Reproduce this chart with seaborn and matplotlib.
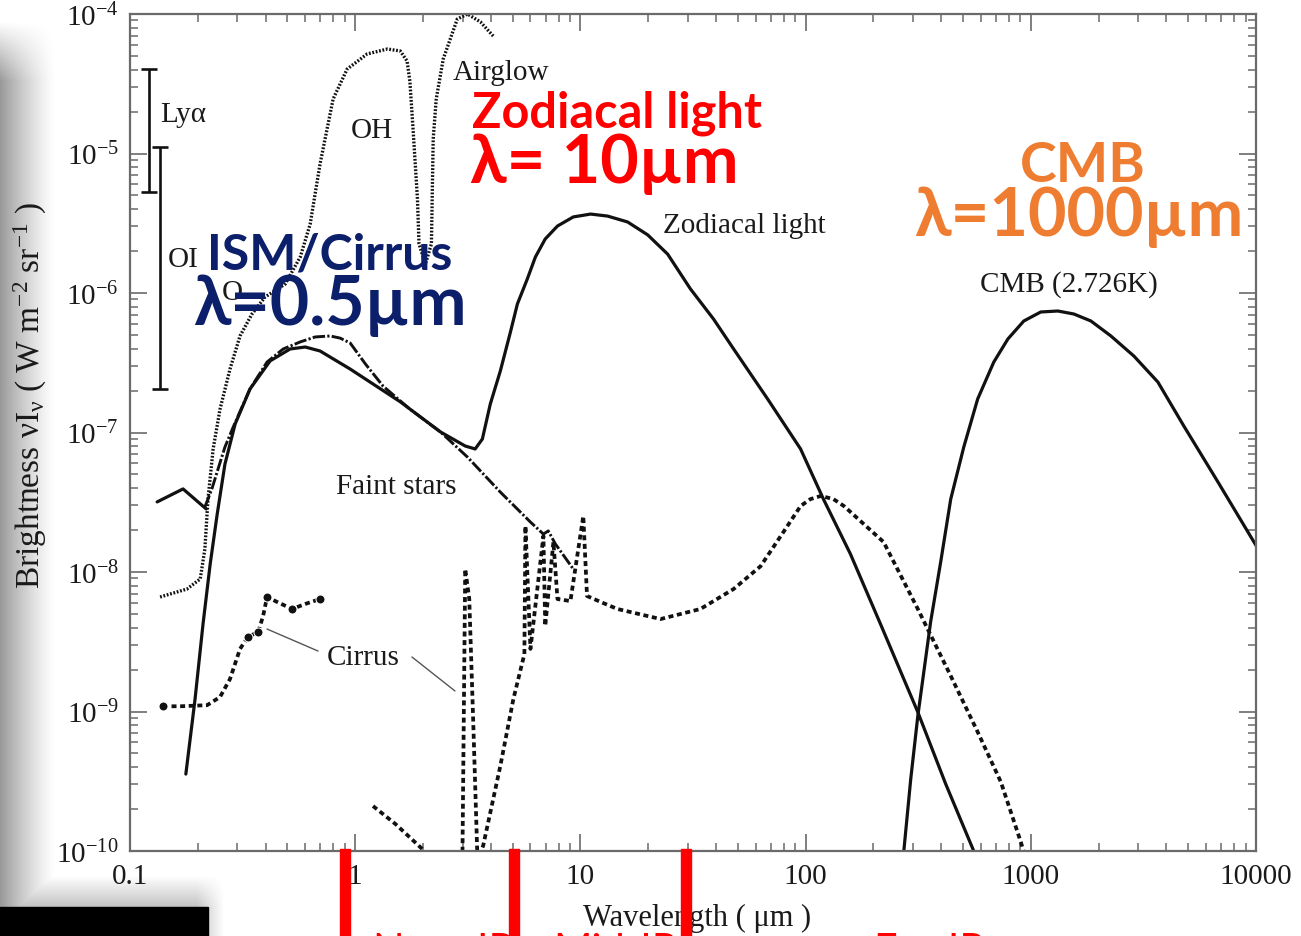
import numpy as np
import matplotlib
matplotlib.use("Agg")
import matplotlib.pyplot as plt
import seaborn as sns
from matplotlib.ticker import LogLocator, NullFormatter
from matplotlib.patches import Rectangle
from matplotlib.lines import Line2D

# ---------------------------------------------------------------
# Sky background components: wavelength (micron) vs nu*I_nu (W m^-2 sr^-1)
# ---------------------------------------------------------------
zodi_wl = [0.177, 0.1945, 0.211, 0.227, 0.244, 0.264, 0.293, 0.341, 0.419, 0.514,
           0.600, 0.698, 0.95, 1.585, 2.39, 3.08, 3.41, 3.67, 3.98, 4.41, 4.89,
           5.25, 5.81, 6.31, 6.98, 7.91, 9.3, 11.1, 13.2, 16.2, 19.9, 24.4, 30.8,
           39.0, 47.9, 67.8, 95, 120, 158, 215, 315, 419, 558, 588]
zodi_br = [3.56e-10, 1.23e-9, 4.24e-9, 1.14e-8, 2.61e-8, 5.94e-8, 1.15e-7, 2.05e-7,
           3.26e-7, 3.97e-7, 4.10e-7, 3.84e-7, 2.85e-7, 1.66e-7, 1.01e-7, 8.0e-8,
           7.62e-8, 8.98e-8, 1.60e-7, 2.76e-7, 5.25e-7, 8.34e-7, 1.26e-6, 1.81e-6,
           2.44e-6, 3.02e-6, 3.51e-6, 3.68e-6, 3.56e-6, 3.23e-6, 2.61e-6, 1.90e-6,
           1.07e-6, 6.51e-7, 3.97e-7, 1.74e-7, 7.62e-8, 3.33e-8, 1.35e-8, 4.24e-9,
           9.9e-10, 3.02e-10, 1.0e-10, 8.8e-11]

stars_wl = [0.215, 0.231, 0.246, 0.264, 0.287, 0.341, 0.406, 0.479, 0.570, 0.664,
            0.774, 0.857, 0.95, 1.11, 1.33, 1.75, 2.39, 3.15, 4.41, 6.0, 6.85,
            7.2, 7.74, 9.3]
stars_br = [2.92e-8, 3.94e-8, 5.47e-8, 7.87e-8, 1.09e-7, 2.05e-7, 3.20e-7, 3.97e-7,
            4.46e-7, 4.84e-7, 4.92e-7, 4.75e-7, 4.38e-7, 3.10e-7, 2.15e-7, 1.47e-7,
            1.01e-7, 6.67e-8, 3.74e-8, 2.28e-8, 1.87e-8, 1.97e-8, 1.59e-8, 1.05e-8]

uv_stars_wl = [0.132, 0.172, 0.218]
uv_stars_br = [3.18e-8, 3.94e-8, 2.83e-8]

airglow_wl = [0.136, 0.179, 0.205, 0.215, 0.222, 0.234, 0.251, 0.278, 0.308, 0.348,
              0.398, 0.489, 0.570, 0.631, 0.698, 0.798, 0.921, 1.13, 1.39, 1.585,
              1.70, 1.75, 1.81, 1.89, 1.92, 2.05, 2.18, 2.22, 2.29, 2.46, 2.84,
              3.15, 3.60, 4.10]
airglow_br = [6.62e-9, 7.55e-9, 8.91e-9, 1.46e-8, 3.33e-8, 7.62e-8, 1.47e-7, 2.85e-7,
              4.92e-7, 7.07e-7, 9.36e-7, 1.16e-6, 1.81e-6, 3.12e-6, 8.41e-6, 2.46e-5,
              4.03e-5, 5.17e-5, 5.61e-5, 5.43e-5, 4.60e-5, 3.26e-5, 1.43e-5, 4.72e-6,
              2.25e-6, 1.61e-6, 2.25e-6, 1.27e-5, 2.46e-5, 4.76e-5, 9.2e-5, 1.0e-4,
              8.77e-5, 6.95e-5]

cirrus_uv_wl = [0.140, 0.167, 0.220, 0.251, 0.278, 0.308, 0.334, 0.371, 0.390, 0.406,
                0.450, 0.525, 0.600, 0.698]
cirrus_uv_br = [1.09e-9, 1.09e-9, 1.11e-9, 1.27e-9, 1.71e-9, 2.81e-9, 3.42e-9, 3.72e-9,
                4.84e-9, 6.62e-9, 6.10e-9, 5.43e-9, 5.90e-9, 6.40e-9]
cirrus_uv_measured = [0, 6, 7, 9, 11, 13]

cirrus_nir_wl = [1.20, 1.51, 1.99, 2.27]
cirrus_nir_br = [2.10e-10, 1.56e-10, 1.03e-10, 8.07e-11]

cirrus_ir_wl = [2.99, 3.08, 3.21, 3.34, 3.49, 3.70, 4.41, 5.04, 5.64, 5.70, 6.0, 6.85,
                6.98, 7.59, 7.91, 9.03, 10.3, 10.7, 12.3, 14.6, 22.7, 34.1, 47.9,
                63.1, 79.8, 95, 105, 117, 133, 148, 222, 315, 441, 581, 736, 903, 950]
cirrus_ir_br = [7.43e-11, 1.05e-8, 6.40e-9, 8.83e-10, 8.77e-11, 1.09e-10, 4.07e-10,
                1.23e-9, 2.58e-9, 2.14e-8, 2.81e-9, 1.81e-8, 4.10e-9, 1.64e-8, 6.40e-9,
                6.19e-9, 2.52e-8, 6.73e-9, 6.10e-9, 5.43e-9, 4.60e-9, 5.43e-9, 7.55e-9,
                1.10e-8, 1.94e-8, 2.97e-8, 3.33e-8, 3.51e-8, 3.33e-8, 2.97e-8, 1.64e-8,
                5.43e-9, 1.80e-9, 7.13e-10, 3.13e-10, 1.16e-10, 8.77e-11]

cmb_wl = [264, 273, 293, 315, 359, 398, 441, 504, 581, 685, 791, 931, 1107, 1318,
          1553, 1849, 2268, 2870, 3667, 4786, 6776, 10100]
cmb_br = [7.4e-11, 1.0e-10, 3.28e-10, 9.29e-10, 4.38e-9, 1.18e-8, 3.33e-8, 7.87e-8,
          1.74e-7, 3.20e-7, 4.68e-7, 6.30e-7, 7.31e-7, 7.43e-7, 7.07e-7, 6.30e-7,
          4.92e-7, 3.53e-7, 2.30e-7, 1.11e-7, 4.42e-8, 1.51e-8]

# UV emission lines shown as ranges
line_names = ["Lyα", "OI"]
line_wl = [0.1216, 0.1356]
line_lo = [5.30e-6, 2.05e-7]
line_hi = [4.03e-5, 1.11e-5]

x_ticks = [0.1, 1, 10, 100, 1000, 10000]
x_tick_labels = ["0.1", "1", "10", "100", "1000", "10000"]
y_ticks = [1e-10, 1e-9, 1e-8, 1e-7, 1e-6, 1e-5, 1e-4]
y_tick_labels = [r"$\mathregular{10^{-10}}$", r"$\mathregular{10^{-9}}$",
                 r"$\mathregular{10^{-8}}$", r"$\mathregular{10^{-7}}$",
                 r"$\mathregular{10^{-6}}$", r"$\mathregular{10^{-5}}$",
                 r"$\mathregular{10^{-4}}$"]

# ---------------------------------------------------------------
sns.set_style("ticks")
plt.rcParams.update({
    "font.family": ["Liberation Serif", "DejaVu Serif"],
    "mathtext.fontset": "custom",
    "mathtext.rm": "Liberation Serif",
    "mathtext.it": "Liberation Serif:italic",
    "mathtext.bf": "Liberation Serif:bold",
    "lines.scale_dashes": False,
})

W, H = 1301, 937
fig = plt.figure(figsize=(W / 100, H / 100), dpi=100)
fig.patch.set_facecolor("white")

# soft page shadow along the left and lower-left edges
bg = fig.add_axes([0, 0, 1, 1], zorder=0)
xx = np.arange(W)[None, :]
yy = np.arange(H)[:, None]
left = 0.40 * np.clip(1 - xx / 56.0, 0, 1) ** 1.3
left = left * np.clip((yy - 22) / 60.0, 0, 1)
low = 0.24 * np.clip((yy - 876) / 32.0, 0, 1) * np.clip((224 - xx) / 28.0, 0, 1)
shade = 1 - np.maximum(left, low)
bg.imshow(shade, cmap="gray", vmin=0, vmax=1, extent=[0, W, H, 0],
          aspect="auto", interpolation="bilinear")
bg.set_xlim(0, W)
bg.set_ylim(H, 0)
bg.axis("off")

ax = fig.add_axes([130 / W, 1 - 852 / H, 1126 / W, 837 / H], zorder=1)
ax.set_facecolor("white")

ink = "#111111"


def curve(wl, br, **kw):
    sns.lineplot(x=wl, y=br, ax=ax, sort=False, estimator=None, color=ink, **kw)


curve(zodi_wl, zodi_br, linewidth=2.3, linestyle="-")
curve(stars_wl, stars_br, linewidth=2.1, linestyle=(0, (9, 1.6, 1.6, 1.6)))
curve(uv_stars_wl, uv_stars_br, linewidth=2.3, linestyle="-")
curve(airglow_wl, airglow_br, linewidth=2.4, linestyle=(0, (1.3, 1.2)))
curve(cirrus_uv_wl, cirrus_uv_br, linewidth=2.7, linestyle=(0, (3.6, 2.6)),
      marker="o", markersize=6.5, markevery=cirrus_uv_measured)
curve(cirrus_nir_wl, cirrus_nir_br, linewidth=2.7, linestyle=(0, (3.6, 2.6)))
curve(cirrus_ir_wl, cirrus_ir_br, linewidth=2.7, linestyle=(0, (3.6, 2.6)))
curve(cmb_wl, cmb_br, linewidth=2.3, linestyle="-")

for wl, lo, hi in zip(line_wl, line_lo, line_hi):
    mid = np.sqrt(lo * hi)
    ax.errorbar([wl], [mid], yerr=[[mid - lo], [hi - mid]], fmt="none",
                ecolor=ink, elinewidth=1.9, capsize=6, capthick=1.9)

ax.set_xscale("log")
ax.set_yscale("log")
ax.set_xlim(0.1, 10000)
ax.set_ylim(1e-10, 1e-4)

ax.set_xticks(x_ticks, labels=x_tick_labels)
ax.set_yticks(y_ticks, labels=y_tick_labels)
ax.xaxis.set_minor_locator(LogLocator(base=10, subs=np.arange(2, 10), numticks=100))
ax.yaxis.set_minor_locator(LogLocator(base=10, subs=np.arange(2, 10), numticks=100))
ax.xaxis.set_minor_formatter(NullFormatter())
ax.yaxis.set_minor_formatter(NullFormatter())

spine_col = "#6a6a6a"
for s in ax.spines.values():
    s.set_color(spine_col)
    s.set_linewidth(1.6)
ax.tick_params(which="both", direction="in", top=True, right=True,
               color=spine_col, labelcolor="#1a1a1a", labelsize=21)
ax.tick_params(which="major", length=12, width=1.2)
ax.tick_params(which="minor", length=6, width=1.1)
ax.tick_params(axis="x", which="major", pad=9)
ax.tick_params(axis="y", which="major", pad=8)

ax.set_xlabel("Wavelength ( μm )", fontsize=22, color="#1a1a1a")
ax.xaxis.set_label_coords(0.5036, -0.079)
ax.xaxis.label.set_verticalalignment("center")
ax.set_ylabel(r"Brightness $\mathregular{\nu I_{\nu}}$ ( W m$\mathregular{^{-2}}$ sr$\mathregular{^{-1}}$ )",
              fontsize=24, color="#1a1a1a")
ax.yaxis.set_label_coords(-0.0888, 0.545)
ax.yaxis.label.set_verticalalignment("center")

# component labels
lab = dict(transform=ax.transAxes, fontsize=21, color="#1a1a1a", va="baseline")
ax.text(0.0266, 0.872, "Lyα", ha="left", **lab)
ax.text(0.0337, 0.699, "OI", ha="left", **lab)
ax.text(0.0817, 0.6595, "O", ha="left", **lab)
ax.text(0.2149, 0.853, "OH", ha="center", **lab)
ax.text(0.2869, 0.9223, "Airglow", ha="left", **lab)
ax.text(0.4734, 0.7395, "Zodiacal light", ha="left", **lab)
ax.text(0.7549, 0.6691, "CMB (2.726K)", ha="left", **lab)
ax.text(0.1829, 0.4277, "Faint stars", ha="left", **lab)
ax.text(0.1750, 0.2234, "Cirrus", ha="left", **lab)
for (x0, y0), (x1, y1) in [((0.1217, 0.2652), (0.1670, 0.2389)),
                           ((0.2504, 0.2318), (0.2886, 0.1912))]:
    ax.add_line(Line2D([x0, x1], [y0, y1], transform=ax.transAxes,
                       color="#555555", linewidth=1.0))

# highlighted wavelengths
sans = ["Lato", "Open Sans", "DejaVu Sans"]
hl = dict(fontweight="bold", family=sans, va="baseline", ha="left", zorder=6)
fig.text(207 / W, 1 - 269 / H, "ISM/Cirrus", fontsize=36, color="#0c1f6b", **hl)
fig.text(193 / W, 1 - 325 / H, "λ=0.5µm", fontsize=49, color="#0c1f6b", **hl)
fig.text(472 / W, 1 - 128 / H, "Zodiacal light", fontsize=35, color="#ff0000", **hl)
fig.text(470 / W, 1 - 183 / H, "λ= 10µm", fontsize=48, color="#ff0000", **hl)
fig.text(1020 / W, 1 - 182 / H, "CMB", fontsize=40, color="#ee7d31", **hl)
fig.text(914 / W, 1 - 236 / H, "λ=1000µm", fontsize=48, color="#ee7d31", **hl)

# infrared band boundaries and names
for xc in [345, 513.5, 685.5]:
    fig.add_artist(Rectangle(((xc - 5) / W, 0), 10 / W, 87 / H,
                             transform=fig.transFigure, color="#ff0000", zorder=7))
band = dict(family=sans, va="top", ha="left", fontsize=30, color="#ff0000", zorder=7)
fig.text(372 / W, 1 - 933 / H, "Near-IR", **band)
fig.text(553 / W, 1 - 933 / H, "Mid-IR", **band)
fig.text(873 / W, 1 - 933 / H, "Far-IR", **band)

fig.add_artist(Rectangle((0, 0), 208 / W, 29 / H, transform=fig.transFigure,
                         color="black", zorder=7))

fig.savefig("out.png", dpi=100)
